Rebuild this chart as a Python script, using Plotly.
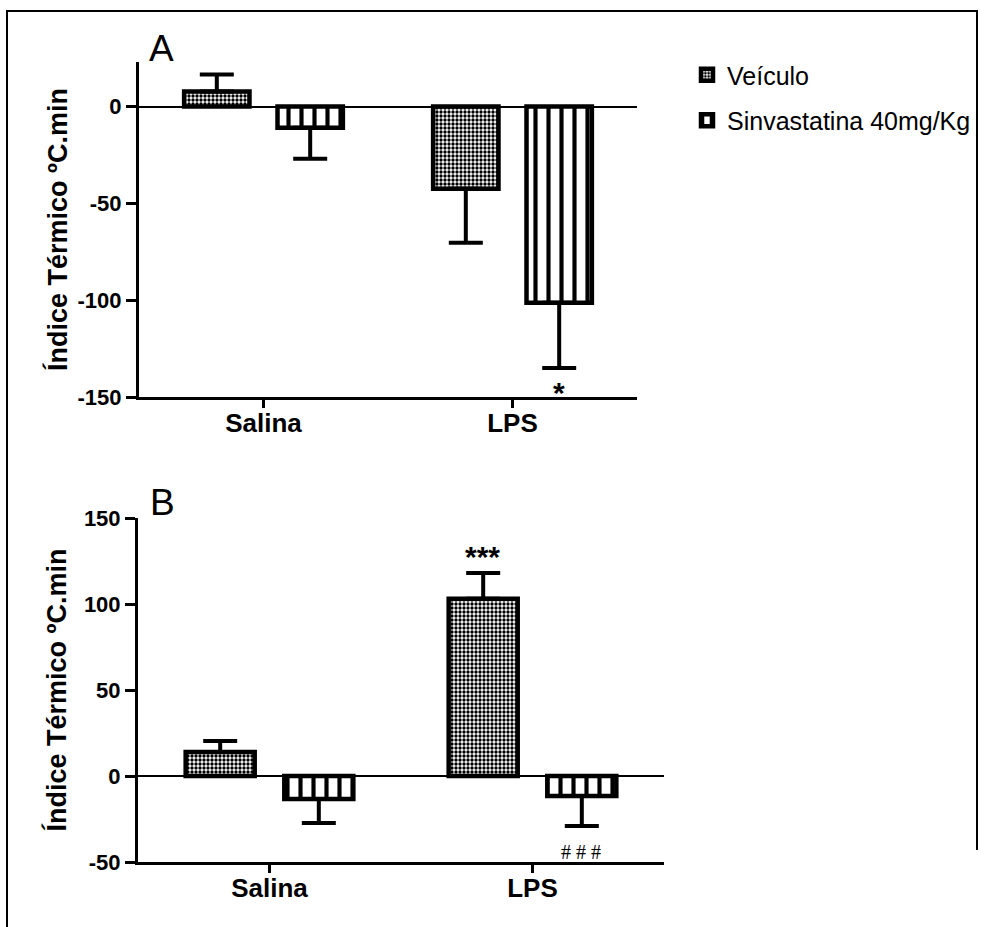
import plotly.graph_objects as go

categories = ["Salina", "LPS"]
series_names = ["Veículo", "Sinvastatina 40mg/Kg"]

# Panel A
a_veiculo = [7.8, -42.4]
a_veiculo_err = [8.7, 28.0]
a_sinva = [-10.9, -101.3]
a_sinva_err = [16.0, 33.7]

# Panel B
b_veiculo = [14.0, 103.0]
b_veiculo_err = [6.3, 15.0]
b_sinva = [-13.4, -11.6]
b_sinva_err = [13.9, 17.4]

a_ticks = [0, -50, -100, -150]
a_ticklabels = ["0", "-50", "-100", "-150"]
b_ticks = [150, 100, 50, 0, -50]
b_ticklabels = ["150", "100", "50", "0", "-50"]
ytitle = "Índice Térmico ºC.min"

FONT = "Liberation Sans, Arial, sans-serif"
W, H = 995, 927


def err_dict(vals, errs):
    plus = [e if v >= 0 else 0 for v, e in zip(vals, errs)]
    minus = [e if v < 0 else 0 for v, e in zip(vals, errs)]
    return dict(type="data", symmetric=False, array=plus, arrayminus=minus,
                color="black", thickness=4, width=17)


def pat_vei():
    return dict(shape=".", fgcolor="black", bgcolor="white", size=4,
                solidity=0.55, fillmode="replace")


def pat_sin():
    return dict(shape="|", fgcolor="black", bgcolor="white", size=13,
                solidity=0.32, fillmode="replace")


fig = go.Figure()

for vals, errs, name, pat, show, xa, ya in [
    (a_veiculo, a_veiculo_err, series_names[0], pat_vei(), True, "x", "y"),
    (a_sinva, a_sinva_err, series_names[1], pat_sin(), True, "x", "y"),
    (b_veiculo, b_veiculo_err, series_names[0], pat_vei(), False, "x2", "y2"),
    (b_sinva, b_sinva_err, series_names[1], pat_sin(), False, "x2", "y2"),
]:
    fig.add_trace(go.Bar(
        x=categories, y=vals, name=name, showlegend=show,
        legendgroup=name, offsetgroup=name,
        marker=dict(color="white", line=dict(color="black", width=4.5), pattern=pat),
        error_y=err_dict(vals, errs), xaxis=xa, yaxis=ya,
    ))

line_common = dict(showline=True, linecolor="black", linewidth=3, automargin=False,
                   ticks="outside", tickwidth=3, tickcolor="black", showgrid=False)
yfont = dict(family=FONT, size=22, color="black", weight="bold")
xfont = dict(family=FONT, size=26, color="black", weight="bold")
tfont = dict(family=FONT, size=27, color="black", weight="bold")

fig.update_layout(
    width=W, height=H, margin=dict(l=0, r=0, t=0, b=0, pad=0, autoexpand=False),
    paper_bgcolor="white", plot_bgcolor="white",
    barmode="group", bargap=0.25, bargroupgap=0.3,
    font=dict(family=FONT, color="black"),
    xaxis=dict(domain=[139 / W, 637 / W], anchor="y", ticklen=8, tickfont=xfont,
               ticklabelstandoff=-7, **line_common),
    yaxis=dict(domain=[1 - 397 / H, 1 - 62 / H], anchor="x", range=[-150, 23],
               tickvals=a_ticks, ticktext=a_ticklabels, ticklen=10, tickfont=yfont,
               zeroline=True, zerolinecolor="black", zerolinewidth=2,
               title=dict(text=ytitle, font=tfont, standoff=3), **line_common),
    xaxis2=dict(domain=[138 / W, 664 / W], anchor="y2", ticklen=8, tickfont=xfont,
                ticklabelstandoff=-7, **line_common),
    yaxis2=dict(domain=[1 - 862 / H, 1 - 518 / H], anchor="x2", range=[-50, 150],
                tickvals=b_ticks, ticktext=b_ticklabels, ticklen=10, tickfont=yfont,
                zeroline=True, zerolinecolor="black", zerolinewidth=2,
                title=dict(text=ytitle, font=tfont, standoff=10), **line_common),
    legend=dict(x=687 / W, y=1 - 52 / H, xanchor="left", yanchor="top",
                font=dict(family=FONT, size=25, color="black"),
                traceorder="grouped", tracegroupgap=10, bgcolor="rgba(0,0,0,0)"),
)

# panel letters
fig.add_annotation(text="A", x=161 / W, y=1 - 48 / H, xref="paper", yref="paper",
                   xanchor="center", yanchor="middle", showarrow=False,
                   font=dict(family=FONT, size=37, color="black"))
fig.add_annotation(text="B", x=162 / W, y=1 - 503 / H, xref="paper", yref="paper",
                   xanchor="center", yanchor="middle", showarrow=False,
                   font=dict(family=FONT, size=37, color="black"))

# significance marks
fig.add_annotation(text="*", x="LPS", y=a_sinva[1] - a_sinva_err[1], xref="x", yref="y",
                   xanchor="center", yanchor="top", xshift=46, yshift=-6, showarrow=False,
                   font=dict(family=FONT, size=30, color="black", weight="bold"))
fig.add_annotation(text="***", x="LPS", y=b_veiculo[1] + b_veiculo_err[1], xref="x2", yref="y2",
                   xanchor="center", yanchor="bottom", xshift=-50, yshift=-2, showarrow=False,
                   font=dict(family=FONT, size=30, color="black", weight="bold"))
fig.add_annotation(text="# # #", x="LPS", y=b_sinva[1] - b_sinva_err[1], xref="x2", yref="y2",
                   xanchor="center", yanchor="middle", xshift=48, yshift=-26, showarrow=False,
                   font=dict(family="Liberation Serif, serif", size=20, color="black"))

# outer frame
fig.add_shape(type="path", xref="paper", yref="paper",
              path=f"M {977 / W},{1 - 850 / H} L {977 / W},{1 - 11 / H} L {7 / W},{1 - 11 / H} L {7 / W},0",
              line=dict(color="black", width=2))

fig.write_html("out.html")
